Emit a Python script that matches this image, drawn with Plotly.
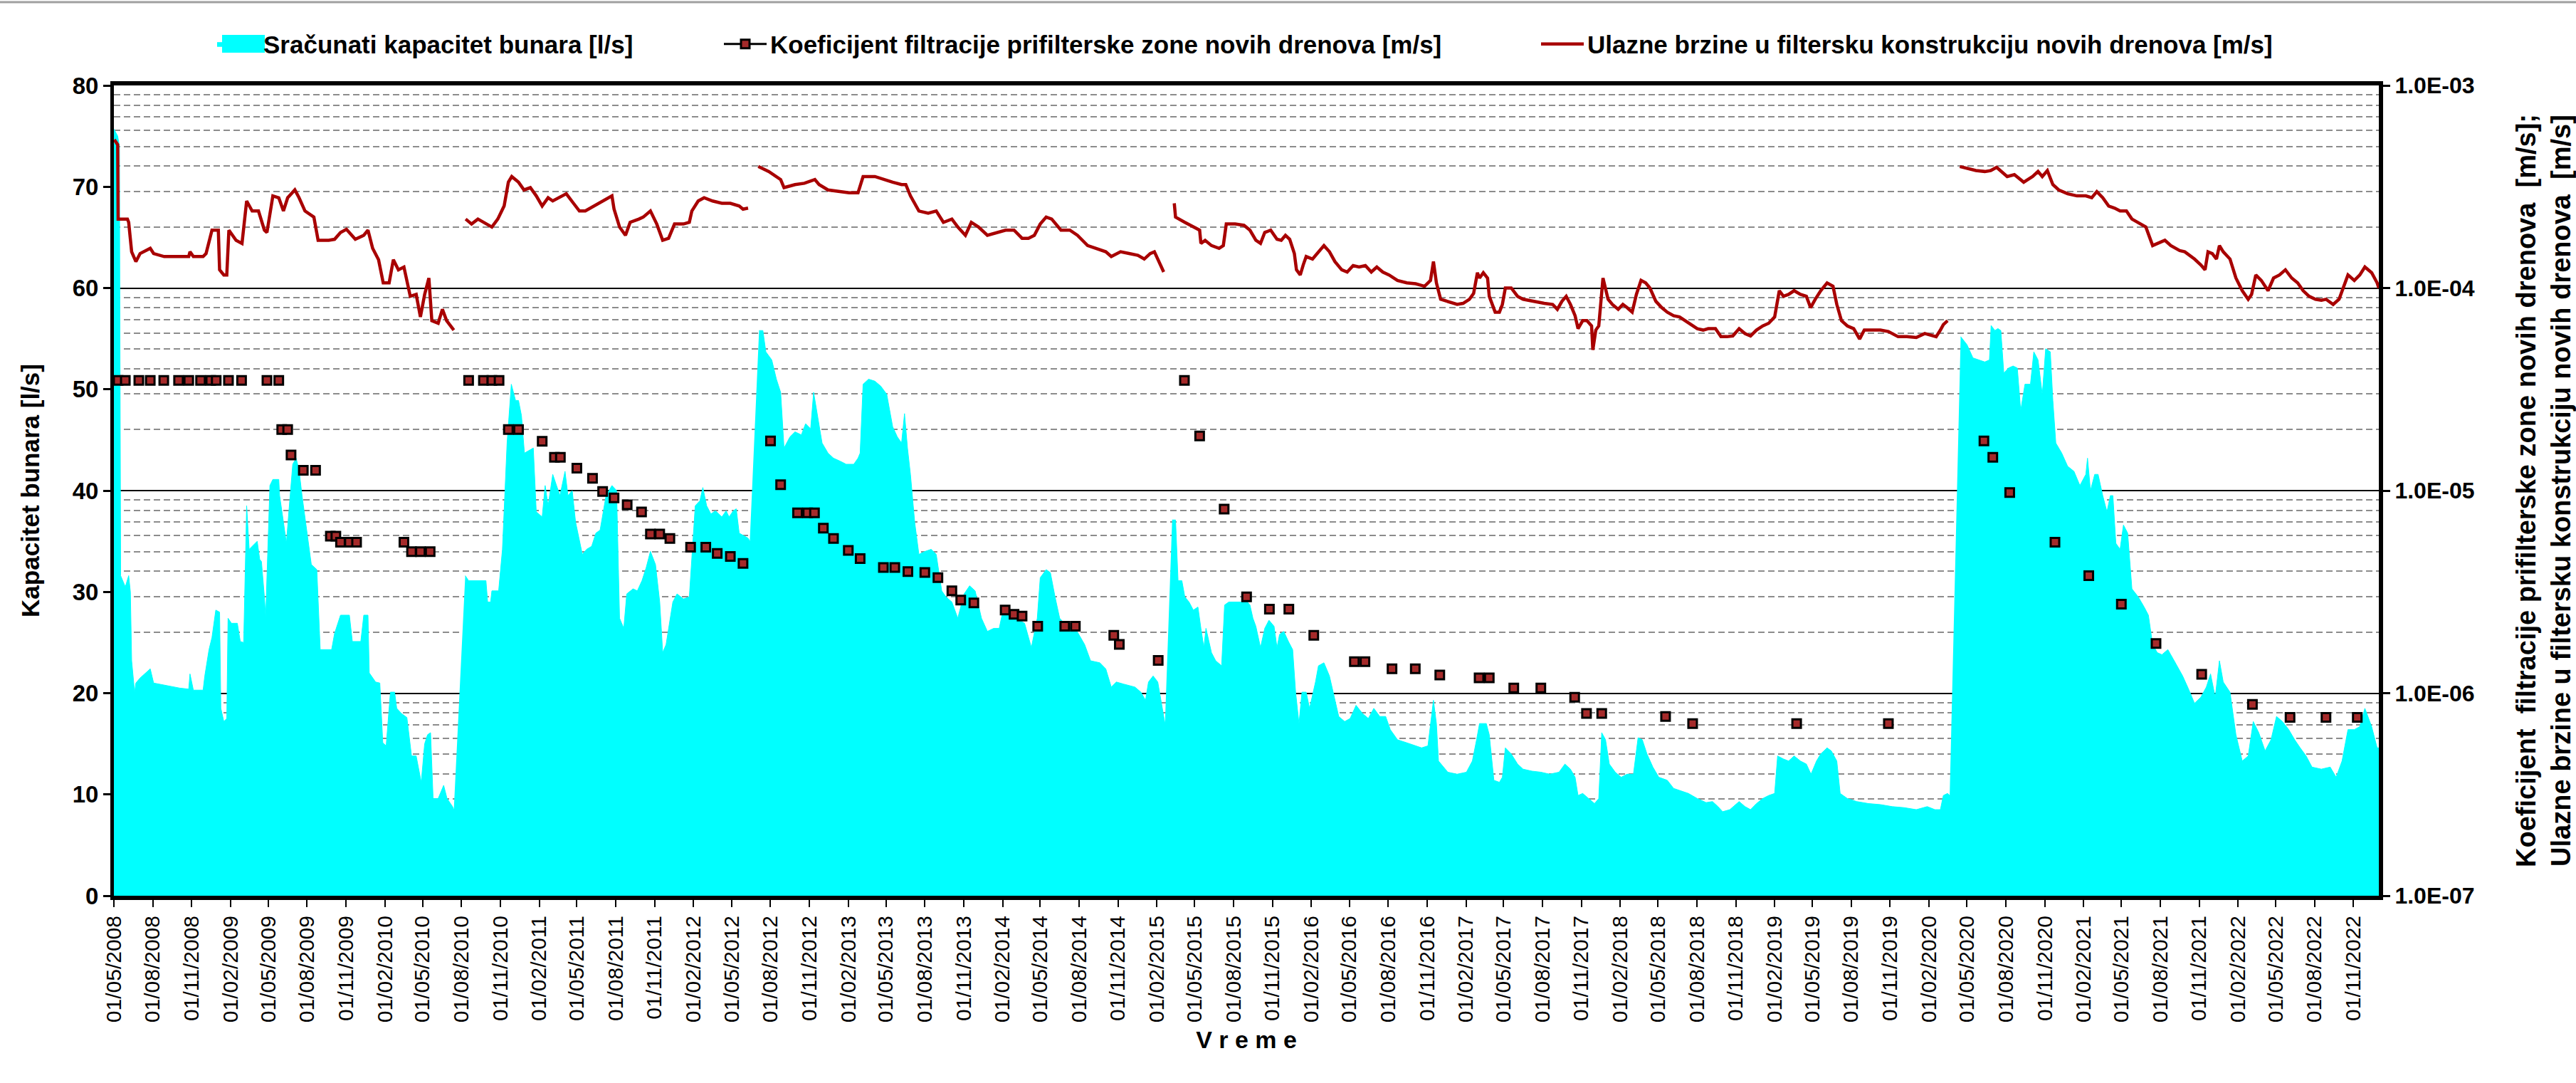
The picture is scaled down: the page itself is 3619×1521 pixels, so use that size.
import plotly.graph_objects as go

# ---------------------------------------------------------------------------
# Calculated well capacity [l/s] (None marks periods without data)
# ---------------------------------------------------------------------------
capacity_dates = [
    "2008-05-01", "2008-05-10", "2008-05-14", "2008-05-17", "2008-05-28", "2008-06-05", "2008-06-09",
    "2008-06-12", "2008-06-19", "2008-06-22", "2008-07-02", "2008-07-26", "2008-08-03", "2008-08-28",
    "2008-10-04", "2008-10-25", "2008-10-28", "2008-11-05", "2008-11-28", "2008-12-02", "2008-12-12",
    "2008-12-19", "2008-12-26", "2008-12-28", "2009-01-06", "2009-01-09", "2009-01-16", "2009-01-23",
    "2009-01-26", "2009-02-03", "2009-02-17", "2009-02-24", "2009-03-04", "2009-03-11", "2009-03-17",
    "2009-03-24", "2009-04-05", "2009-04-11", "2009-04-15", "2009-04-22", "2009-04-25", "2009-05-05",
    "2009-05-12", "2009-05-26", "2009-05-28", "2009-06-06", "2009-06-13", "2009-06-19", "2009-06-28",
    "2009-07-06", "2009-07-13", "2009-07-20", "2009-08-04", "2009-08-11", "2009-08-24", "2009-09-01",
    "2009-09-28", "2009-10-05", "2009-10-19", "2009-11-09", "2009-11-16", "2009-12-06", "2009-12-13",
    "2009-12-23", "2009-12-26", "2010-01-10", "2010-01-20", "2010-01-27", "2010-02-04", "2010-02-14",
    "2010-02-24", "2010-03-01", "2010-03-12", "2010-03-25", "2010-04-05", "2010-04-16", "2010-04-28",
    "2010-05-06", "2010-05-13", "2010-05-20", "2010-05-26", "2010-06-07", "2010-06-20", "2010-06-28",
    "2010-07-11", "2010-07-14", "2010-07-25",
    "2010-08-10", "2010-08-18", "2010-09-28", "2010-10-02", "2010-10-09", "2010-10-12", "2010-10-28",
    "2010-11-06", "2010-11-17", "2010-11-27", "2010-12-07", "2010-12-14", "2010-12-21", "2010-12-28",
    "2011-01-18", "2011-01-25", "2011-02-08", "2011-02-15", "2011-02-22", "2011-03-05", "2011-03-22",
    "2011-04-03", "2011-04-10", "2011-04-20", "2011-04-28", "2011-05-14", "2011-05-24", "2011-06-05",
    "2011-06-15", "2011-06-25", "2011-07-09", "2011-07-23", "2011-08-03", "2011-08-10", "2011-08-20",
    "2011-08-27", "2011-09-11", "2011-09-21", "2011-10-02", "2011-10-12", "2011-10-22", "2011-11-03",
    "2011-11-13", "2011-11-20", "2011-11-28", "2011-12-14", "2011-12-24", "2012-01-08", "2012-01-22",
    "2012-02-05", "2012-02-16", "2012-02-23", "2012-03-03", "2012-03-13", "2012-03-24", "2012-04-08",
    "2012-04-18", "2012-04-25", "2012-05-05", "2012-05-12", "2012-05-19", "2012-05-28", "2012-06-09",
    "2012-06-13", "2012-06-25",
    "2012-07-05", "2012-07-14", "2012-07-21", "2012-08-04", "2012-08-15", "2012-08-25", "2012-09-02",
    "2012-09-16", "2012-09-28", "2012-10-13", "2012-10-23", "2012-11-04", "2012-11-11", "2012-11-18",
    "2012-11-24", "2012-12-01", "2012-12-15", "2012-12-28", "2013-01-13", "2013-01-27", "2013-02-14",
    "2013-02-24", "2013-03-01", "2013-03-08", "2013-03-21", "2013-04-05", "2013-04-19", "2013-05-03",
    "2013-05-17", "2013-05-28", "2013-06-07", "2013-06-14", "2013-06-21", "2013-06-28", "2013-07-08",
    "2013-07-18", "2013-08-02", "2013-08-16", "2013-08-28", "2013-09-10", "2013-09-20", "2013-10-04",
    "2013-10-18", "2013-11-02", "2013-11-15", "2013-11-28", "2013-12-13", "2013-12-27", "2014-01-11",
    "2014-01-24", "2014-02-01", "2014-02-15", "2014-02-28", "2014-03-12", "2014-03-25", "2014-04-10",
    "2014-04-24", "2014-05-01", "2014-05-15", "2014-05-25", "2014-06-05", "2014-06-16", "2014-07-03",
    "2014-07-23", "2014-08-14", "2014-08-28", "2014-09-19", "2014-10-03", "2014-10-16", "2014-10-28",
    "2014-11-14", "2014-12-11", "2014-12-25", "2015-01-05", "2015-01-12", "2015-01-23", "2015-02-03",
    "2015-02-10", "2015-02-17", "2015-02-20", "2015-03-01",
    "2015-03-09", "2015-03-17", "2015-03-23", "2015-04-01", "2015-04-08", "2015-04-18", "2015-04-28",
    "2015-05-09", "2015-05-16", "2015-05-23", "2015-05-28", "2015-06-10", "2015-06-20", "2015-07-04",
    "2015-07-11", "2015-07-21", "2015-08-19", "2015-09-03", "2015-09-09", "2015-09-16", "2015-09-23",
    "2015-10-04", "2015-10-14", "2015-10-24", "2015-11-05", "2015-11-12", "2015-11-18", "2015-11-28",
    "2015-12-09", "2015-12-19", "2015-12-26", "2016-01-03", "2016-01-10", "2016-01-20", "2016-01-28",
    "2016-02-11", "2016-02-18", "2016-03-02", "2016-03-15", "2016-03-26", "2016-04-06", "2016-04-20",
    "2016-05-03", "2016-05-17", "2016-06-01", "2016-06-15", "2016-06-28", "2016-07-12", "2016-07-26",
    "2016-08-06", "2016-08-23", "2016-09-14", "2016-10-05", "2016-10-19", "2016-11-03", "2016-11-09",
    "2016-11-16", "2016-11-23", "2016-11-28", "2016-12-20", "2017-01-11", "2017-02-02", "2017-02-16",
    "2017-02-26", "2017-03-05", "2017-03-21", "2017-03-28", "2017-04-08", "2017-04-21", "2017-04-28",
    "2017-05-05", "2017-05-19", "2017-06-03", "2017-06-16", "2017-07-07", "2017-07-28", "2017-08-18",
    "2017-09-09", "2017-09-23", "2017-10-06", "2017-10-17", "2017-10-24", "2017-11-04", "2017-11-18",
    "2017-12-02", "2017-12-12", "2017-12-19", "2017-12-28", "2018-01-06", "2018-01-20", "2018-02-03",
    "2018-02-17", "2018-03-04", "2018-03-15", "2018-03-25", "2018-04-05", "2018-04-19", "2018-05-03",
    "2018-05-23", "2018-06-07", "2018-06-21", "2018-07-12", "2018-08-02", "2018-08-23", "2018-09-07",
    "2018-09-20", "2018-10-01", "2018-10-18", "2018-11-09", "2018-11-23", "2018-12-06", "2018-12-20",
    "2019-01-04", "2019-01-18", "2019-02-01", "2019-02-08", "2019-02-22", "2019-03-06", "2019-03-19",
    "2019-04-03", "2019-04-17", "2019-04-28", "2019-05-11", "2019-05-21", "2019-06-05", "2019-06-15",
    "2019-06-28", "2019-07-06", "2019-07-23", "2019-08-14", "2019-09-11", "2019-10-09", "2019-11-06",
    "2019-12-04", "2020-01-02", "2020-01-28", "2020-02-15", "2020-02-28", "2020-03-06", "2020-03-16",
    "2020-03-21", "2020-04-05",
    "2020-04-16", "2020-05-01", "2020-05-15", "2020-05-28", "2020-06-12", "2020-06-23", "2020-06-27",
    "2020-07-06", "2020-07-13", "2020-07-20", "2020-07-27", "2020-08-07", "2020-08-18", "2020-08-28",
    "2020-09-05", "2020-09-15", "2020-09-28", "2020-10-06", "2020-10-16", "2020-10-26", "2020-11-03",
    "2020-11-14", "2020-11-20", "2020-11-27", "2020-12-11", "2020-12-25", "2021-01-09", "2021-01-23",
    "2021-02-06", "2021-02-10", "2021-02-17", "2021-02-27", "2021-03-07", "2021-03-18", "2021-03-28",
    "2021-04-05", "2021-04-11", "2021-04-18", "2021-04-28", "2021-05-06", "2021-05-16", "2021-05-26",
    "2021-06-10", "2021-06-24", "2021-07-04", "2021-07-14", "2021-07-25", "2021-08-05", "2021-08-19",
    "2021-09-03", "2021-09-23", "2021-10-07", "2021-10-21", "2021-11-05", "2021-11-18", "2021-11-28",
    "2021-12-09", "2021-12-19", "2021-12-28", "2022-01-13", "2022-01-27", "2022-02-11", "2022-02-25",
    "2022-03-09", "2022-03-22", "2022-04-06", "2022-04-20", "2022-05-03", "2022-05-17", "2022-06-01",
    "2022-06-15", "2022-06-28", "2022-07-12", "2022-07-26", "2022-08-17", "2022-09-07", "2022-09-21",
    "2022-10-05", "2022-10-19", "2022-11-03", "2022-11-16", "2022-11-28", "2022-12-14", "2022-12-27",
    "2022-12-31",
]
capacity_lps = [
    75.7, 75.0, 74.0, 31.6, 30.5, 31.6, 30.0,
    23.2, 20.1, 21.0, 21.5, 22.4, 21.0, 20.8,
    20.5, 20.4, 21.9, 20.3, 20.3, 21.7, 24.3,
    25.5, 27.4, 28.2, 28.0, 18.5, 17.2, 17.5,
    27.4, 26.9, 26.9, 25.1, 25.0, 38.5, 34.2,
    34.5, 35.0, 33.2, 33.0, 29.5, 27.5, 40.5,
    41.1, 41.1, 39.5, 36.9, 34.8, 38.0, 42.6,
    43.2, 42.0, 39.5, 34.8, 32.7, 32.2, 24.3,
    24.3, 25.9, 27.7, 27.7, 25.1, 25.1, 27.7,
    27.7, 22.0, 21.1, 21.0, 15.1, 14.8, 20.1,
    20.1, 18.5, 18.0, 17.6, 13.8, 13.8, 11.2,
    15.0, 15.9, 16.1, 9.6, 9.6, 10.9, 9.6,
    8.8, 8.5, None,
    31.6, 31.1, 31.1, 29.0, 29.0, 30.1, 30.1,
    34.2, 44.7, 50.5, 48.9, 48.9, 47.4, 43.7,
    44.2, 37.9, 37.4, 40.5, 38.5, 41.6, 39.5,
    41.9, 39.5, 40.0, 36.9, 33.7, 34.2, 34.5,
    35.8, 36.1, 39.5, 40.5, 40.0, 27.4, 26.4,
    29.8, 30.3, 30.1, 31.1, 32.4, 34.0, 32.7,
    29.0, 24.0, 24.8, 29.0, 29.8, 29.3, 29.5,
    38.5, 39.0, 40.3, 38.5, 37.7, 38.0, 37.4,
    38.0, 37.4, 38.0, 38.2, 35.8, 35.6, 35.3,
    35.0, None,
    55.8, 55.8, 53.7, 52.9, 51.0, 49.7, 44.2,
    45.3, 45.8, 45.5, 46.6, 46.1, 49.7, 47.9,
    46.3, 44.7, 43.7, 43.2, 42.9, 42.6, 42.6,
    43.2, 43.7, 50.5, 51.0, 50.8, 50.3, 49.5,
    46.3, 45.3, 44.7, 47.6, 44.2, 41.6, 36.9,
    33.7, 34.0, 34.2, 33.7, 30.1, 29.5, 29.0,
    27.4, 29.8, 30.6, 30.1, 27.4, 26.1, 26.4,
    26.4, 28.0, 28.2, 27.7, 27.2, 26.9, 24.5,
    27.4, 31.4, 32.2, 31.9, 29.5, 27.4, 26.6,
    26.4, 24.8, 23.2, 23.0, 22.4, 20.6, 21.1,
    20.9, 20.6, 20.1, 19.3, 21.1, 21.7, 21.1,
    19.3, 17.5, 17.0, None,
    37.1, 37.1, 31.1, 31.1, 29.5, 29.0, 28.2,
    28.5, 26.4, 24.5, 26.4, 24.0, 23.2, 22.7,
    28.7, 29.0, 29.0, 29.0, 28.7, 27.4, 26.6,
    24.5, 26.4, 27.2, 26.6, 24.5, 25.8, 26.1,
    25.1, 24.3, 20.1, 17.0, 20.1, 20.1, 18.5,
    21.1, 22.7, 23.0, 21.7, 19.8, 17.7, 17.2,
    17.5, 18.8, 18.0, 17.5, 18.5, 17.7, 17.7,
    16.4, 15.4, 15.1, 14.8, 14.6, 14.8, 17.0,
    19.3, 17.0, 13.3, 12.2, 12.0, 12.2, 13.3,
    15.4, 17.0, 17.0, 15.9, 11.4, 11.2, 11.7,
    14.6, 14.0, 13.0, 12.5, 12.3, 12.2, 12.0,
    12.2, 13.0, 12.5, 11.7, 9.9, 10.1, 9.6,
    9.1, 9.6, 16.1, 15.4, 13.0, 12.2, 11.7,
    12.0, 12.0, 15.6, 15.4, 14.0, 12.7, 11.7,
    11.4, 10.6, 10.4, 10.1, 9.6, 9.2, 9.3,
    8.8, 8.3, 8.5, 9.3, 8.8, 8.5, 9.1,
    9.6, 9.9, 10.1, 13.8, 13.5, 13.3, 13.8,
    13.3, 13.0, 12.0, 13.3, 14.0, 14.6, 14.3,
    13.3, 10.1, 9.6, 9.3, 9.1, 9.0, 8.8,
    8.7, 8.5, 8.8, 8.5, 8.5, 9.9, 10.1,
    9.9, None,
    55.2, 54.4, 53.1, 52.9, 52.7, 52.9, 56.3,
    55.8, 56.0, 55.8, 51.6, 52.1, 52.3, 52.1,
    47.9, 50.5, 50.5, 53.7, 52.9, 49.5, 54.0,
    53.7, 48.9, 44.7, 43.7, 42.4, 41.9, 40.5,
    41.6, 43.2, 40.0, 41.6, 41.6, 39.5, 37.9,
    39.5, 39.5, 34.8, 34.2, 36.6, 35.8, 30.3,
    29.5, 28.5, 27.7, 24.8, 24.0, 23.8, 24.3,
    23.2, 21.7, 20.4, 19.0, 19.6, 20.6, 21.9,
    19.6, 23.2, 21.1, 20.1, 15.9, 13.3, 13.8,
    17.2, 16.1, 14.3, 15.4, 17.7, 17.2, 16.4,
    15.4, 14.6, 13.8, 12.7, 12.5, 12.7, 11.7,
    13.3, 16.4, 16.4, 16.7, 18.5, 16.7, 14.6,
    14.6,
]

# ---------------------------------------------------------------------------
# Entrance velocity into the filter construction of the new drains [m/s]
# ---------------------------------------------------------------------------
velocity_dates = [
    "2008-05-02", "2008-05-10", "2008-05-11", "2008-05-18", "2008-06-02", "2008-06-05", "2008-06-12",
    "2008-06-22", "2008-07-02", "2008-07-26", "2008-08-03", "2008-08-28", "2008-10-04", "2008-10-25",
    "2008-10-28", "2008-11-05", "2008-11-28", "2008-12-05", "2008-12-19", "2009-01-03", "2009-01-06",
    "2009-01-16", "2009-01-23", "2009-01-28", "2009-02-14", "2009-02-28", "2009-03-11", "2009-03-24",
    "2009-04-08", "2009-04-22", "2009-04-28", "2009-05-12", "2009-05-26", "2009-06-06", "2009-06-16",
    "2009-07-03", "2009-07-13", "2009-07-27", "2009-08-17", "2009-08-27", "2009-09-21", "2009-10-05",
    "2009-10-19", "2009-11-02", "2009-11-23", "2009-12-13", "2009-12-23", "2010-01-03", "2010-01-17",
    "2010-01-28", "2010-02-11", "2010-02-21", "2010-03-05", "2010-03-18", "2010-04-02", "2010-04-16",
    "2010-04-26", "2010-05-06", "2010-05-16", "2010-05-23", "2010-06-07", "2010-06-17", "2010-06-27",
    "2010-07-14", "2010-07-25",
    "2010-08-11", "2010-08-25", "2010-09-09", "2010-09-28", "2010-10-12", "2010-10-26", "2010-11-10",
    "2010-11-20", "2010-11-28", "2010-12-14", "2010-12-27", "2011-01-11", "2011-01-25", "2011-02-08",
    "2011-02-22", "2011-03-05", "2011-03-26", "2011-04-06", "2011-04-23", "2011-05-07", "2011-05-21",
    "2011-06-11", "2011-07-02", "2011-07-23", "2011-07-28", "2011-08-10", "2011-08-24", "2011-09-04",
    "2011-09-25", "2011-10-05", "2011-10-22", "2011-11-06", "2011-11-20", "2011-12-04", "2011-12-18",
    "2012-01-08", "2012-01-22", "2012-01-28", "2012-02-12", "2012-02-26", "2012-03-17", "2012-04-08",
    "2012-04-28", "2012-05-19", "2012-05-28", "2012-06-09", "2012-06-25",
    "2012-07-03", "2012-07-28", "2012-08-25", "2012-09-02", "2012-09-28", "2012-10-20", "2012-11-14",
    "2012-11-24", "2012-12-15", "2013-01-13", "2013-02-03", "2013-02-24", "2013-03-08", "2013-04-05",
    "2013-04-26", "2013-05-17", "2013-06-07", "2013-06-17", "2013-06-28", "2013-07-18", "2013-08-09",
    "2013-08-28", "2013-09-14", "2013-10-04", "2013-10-18", "2013-11-05", "2013-11-19", "2013-12-06",
    "2013-12-27", "2014-01-17", "2014-02-08", "2014-02-28", "2014-03-19", "2014-04-03", "2014-04-17",
    "2014-05-01", "2014-05-15", "2014-05-28", "2014-06-19", "2014-07-10", "2014-07-28", "2014-08-21",
    "2014-09-12", "2014-10-03", "2014-10-16", "2014-11-07", "2014-11-27", "2014-12-18", "2015-01-02",
    "2015-01-16", "2015-01-26", "2015-02-06", "2015-02-17", "2015-03-01",
    "2015-03-14", "2015-03-17", "2015-04-08", "2015-04-28", "2015-05-13", "2015-05-16", "2015-05-26",
    "2015-06-10", "2015-06-28", "2015-07-08", "2015-07-15", "2015-08-05", "2015-08-26", "2015-09-09",
    "2015-09-23", "2015-10-04", "2015-10-14", "2015-10-28", "2015-11-12", "2015-11-22", "2015-12-02",
    "2015-12-12", "2015-12-23", "2015-12-28", "2016-01-06", "2016-01-13", "2016-01-20", "2016-02-04",
    "2016-02-18", "2016-03-02", "2016-03-15", "2016-03-28", "2016-04-13", "2016-04-26", "2016-05-10",
    "2016-05-24", "2016-06-08", "2016-06-22", "2016-07-05", "2016-07-19", "2016-08-03", "2016-08-23",
    "2016-09-14", "2016-10-05", "2016-10-26", "2016-11-09", "2016-11-16", "2016-11-23", "2016-12-03",
    "2016-12-20", "2017-01-11", "2017-01-25", "2017-02-09", "2017-02-19", "2017-02-28", "2017-03-05",
    "2017-03-14", "2017-03-24", "2017-03-28", "2017-04-11", "2017-04-21", "2017-04-28", "2017-05-05",
    "2017-05-19", "2017-06-03", "2017-06-16", "2017-07-07", "2017-08-05", "2017-08-25", "2017-09-05",
    "2017-09-16", "2017-09-26", "2017-10-06", "2017-10-17", "2017-10-24", "2017-11-04", "2017-11-14",
    "2017-11-25", "2017-11-28", "2017-12-05", "2017-12-12", "2017-12-22", "2018-01-03", "2018-01-13",
    "2018-01-27", "2018-02-07", "2018-02-17", "2018-03-01", "2018-03-11", "2018-03-22", "2018-04-02",
    "2018-04-12", "2018-04-26", "2018-05-10", "2018-05-23", "2018-06-07", "2018-06-21", "2018-07-05",
    "2018-07-19", "2018-08-02", "2018-08-16", "2018-08-28", "2018-09-14", "2018-09-27", "2018-10-11",
    "2018-10-25", "2018-11-09", "2018-11-23", "2018-12-06", "2018-12-20", "2019-01-04", "2019-01-18",
    "2019-02-01", "2019-02-12", "2019-02-22", "2019-03-06", "2019-03-19", "2019-04-03", "2019-04-17",
    "2019-04-27", "2019-05-08", "2019-05-21", "2019-06-05", "2019-06-19", "2019-06-28", "2019-07-09",
    "2019-07-23", "2019-08-07", "2019-08-21", "2019-09-01", "2019-09-18", "2019-10-09", "2019-10-28",
    "2019-11-20", "2019-12-11", "2020-01-02", "2020-01-22", "2020-02-18", "2020-02-28", "2020-03-06",
    "2020-03-16", "2020-04-05",
    "2020-04-14", "2020-05-01", "2020-05-22", "2020-06-12", "2020-06-26", "2020-07-10", "2020-07-24",
    "2020-08-04", "2020-08-21", "2020-09-12", "2020-10-03", "2020-10-16", "2020-10-26", "2020-11-07",
    "2020-11-20", "2020-12-04", "2020-12-25", "2021-01-16", "2021-02-06", "2021-02-20", "2021-03-04",
    "2021-03-18", "2021-04-01", "2021-04-15", "2021-04-28", "2021-05-13", "2021-05-26", "2021-06-17",
    "2021-06-28", "2021-07-14", "2021-07-28", "2021-08-12", "2021-08-26", "2021-09-16", "2021-09-28",
    "2021-10-21", "2021-11-05", "2021-11-15", "2021-11-22", "2021-12-02", "2021-12-12", "2021-12-19",
    "2021-12-28", "2022-01-13", "2022-01-27", "2022-02-11", "2022-02-25", "2022-03-05", "2022-03-15",
    "2022-03-28", "2022-04-13", "2022-04-26", "2022-05-10", "2022-05-24", "2022-06-08", "2022-06-22",
    "2022-07-05", "2022-07-19", "2022-08-03", "2022-08-17", "2022-08-28", "2022-09-14", "2022-09-28",
    "2022-10-12", "2022-10-19", "2022-11-03", "2022-11-16", "2022-11-28", "2022-12-14", "2022-12-27",
    "2022-12-31",
]
velocity_ms = [
    5.4e-4, 5.1e-4, 2.19e-4, 2.19e-4, 2.19e-4, 2.11e-4, 1.51e-4,
    1.35e-4, 1.48e-4, 1.57e-4, 1.48e-4, 1.43e-4, 1.43e-4, 1.43e-4,
    1.51e-4, 1.43e-4, 1.43e-4, 1.48e-4, 1.93e-4, 1.93e-4, 1.23e-4,
    1.16e-4, 1.16e-4, 1.93e-4, 1.72e-4, 1.66e-4, 2.69e-4, 2.40e-4,
    2.40e-4, 1.93e-4, 1.88e-4, 2.85e-4, 2.79e-4, 2.40e-4, 2.79e-4,
    3.05e-4, 2.79e-4, 2.40e-4, 2.24e-4, 1.72e-4, 1.72e-4, 1.74e-4,
    1.88e-4, 1.95e-4, 1.74e-4, 1.82e-4, 1.93e-4, 1.57e-4, 1.38e-4,
    1.06e-4, 1.06e-4, 1.38e-4, 1.23e-4, 1.27e-4, 9.1e-5, 9.3e-5,
    7.2e-5, 9.3e-5, 1.12e-4, 6.9e-5, 6.7e-5, 7.85e-5, 6.9e-5,
    6.2e-5, None,
    2.19e-4, 2.07e-4, 2.19e-4, 2.07e-4, 2.0e-4, 2.19e-4, 2.54e-4,
    3.33e-4, 3.55e-4, 3.33e-4, 3.05e-4, 3.13e-4, 2.85e-4, 2.54e-4,
    2.79e-4, 2.69e-4, 2.85e-4, 2.92e-4, 2.62e-4, 2.40e-4, 2.40e-4,
    2.54e-4, 2.69e-4, 2.85e-4, 2.45e-4, 2.0e-4, 1.82e-4, 2.11e-4,
    2.19e-4, 2.24e-4, 2.40e-4, 2.07e-4, 1.72e-4, 1.76e-4, 2.07e-4,
    2.07e-4, 2.11e-4, 2.40e-4, 2.69e-4, 2.79e-4, 2.69e-4, 2.62e-4,
    2.62e-4, 2.54e-4, 2.45e-4, 2.48e-4, None,
    3.98e-4, 3.76e-4, 3.43e-4, 3.13e-4, 3.24e-4, 3.29e-4, 3.43e-4,
    3.24e-4, 3.05e-4, 2.99e-4, 2.95e-4, 2.95e-4, 3.55e-4, 3.55e-4,
    3.43e-4, 3.33e-4, 3.24e-4, 3.24e-4, 2.85e-4, 2.40e-4, 2.34e-4,
    2.40e-4, 2.11e-4, 2.19e-4, 2.0e-4, 1.82e-4, 2.11e-4, 2.0e-4,
    1.82e-4, 1.88e-4, 1.93e-4, 1.93e-4, 1.76e-4, 1.76e-4, 1.82e-4,
    2.07e-4, 2.24e-4, 2.19e-4, 1.93e-4, 1.93e-4, 1.82e-4, 1.62e-4,
    1.57e-4, 1.51e-4, 1.43e-4, 1.51e-4, 1.48e-4, 1.45e-4, 1.39e-4,
    1.48e-4, 1.51e-4, 1.35e-4, 1.20e-4, None,
    2.62e-4, 2.24e-4, 2.11e-4, 2.0e-4, 1.93e-4, 1.66e-4, 1.72e-4,
    1.62e-4, 1.57e-4, 1.62e-4, 2.07e-4, 2.07e-4, 2.04e-4, 1.93e-4,
    1.72e-4, 1.66e-4, 1.88e-4, 1.93e-4, 1.74e-4, 1.72e-4, 1.82e-4,
    1.74e-4, 1.48e-4, 1.23e-4, 1.16e-4, 1.30e-4, 1.43e-4, 1.39e-4,
    1.51e-4, 1.62e-4, 1.51e-4, 1.35e-4, 1.23e-4, 1.20e-4, 1.29e-4,
    1.27e-4, 1.29e-4, 1.20e-4, 1.27e-4, 1.20e-4, 1.16e-4, 1.09e-4,
    1.06e-4, 1.05e-4, 1.02e-4, 1.09e-4, 1.35e-4, 1.06e-4, 8.8e-5,
    8.6e-5, 8.3e-5, 8.4e-5, 8.8e-5, 9.4e-5, 1.19e-4, 1.12e-4,
    1.19e-4, 1.12e-4, 9.1e-5, 7.6e-5, 7.6e-5, 8.3e-5, 1.0e-4,
    1.0e-4, 9.1e-5, 8.8e-5, 8.6e-5, 8.4e-5, 8.3e-5, 7.85e-5,
    8.6e-5, 9.1e-5, 8.3e-5, 7.3e-5, 6.3e-5, 6.9e-5, 6.9e-5,
    6.5e-5, 4.95e-5, 6.2e-5, 6.5e-5, 1.12e-4, 8.8e-5, 8.3e-5,
    7.85e-5, 8.3e-5, 8.0e-5, 7.6e-5, 9.3e-5, 1.09e-4, 1.06e-4,
    1.0e-4, 8.6e-5, 8.0e-5, 7.6e-5, 7.3e-5, 7.2e-5, 6.9e-5,
    6.6e-5, 6.3e-5, 6.2e-5, 6.3e-5, 6.3e-5, 5.75e-5, 5.75e-5,
    5.8e-5, 6.3e-5, 5.96e-5, 5.8e-5, 6.2e-5, 6.5e-5, 6.7e-5,
    7.2e-5, 9.7e-5, 9.1e-5, 9.3e-5, 9.7e-5, 9.3e-5, 9.1e-5,
    8.0e-5, 8.8e-5, 9.7e-5, 1.06e-4, 1.02e-4, 8.3e-5, 6.9e-5,
    6.5e-5, 6.3e-5, 5.6e-5, 6.2e-5, 6.2e-5, 6.2e-5, 6.1e-5,
    5.75e-5, 5.75e-5, 5.7e-5, 5.96e-5, 5.75e-5, 6.2e-5, 6.6e-5,
    6.9e-5, None,
    3.98e-4, 3.89e-4, 3.80e-4, 3.76e-4, 3.80e-4, 3.94e-4, 3.72e-4,
    3.55e-4, 3.63e-4, 3.33e-4, 3.55e-4, 3.76e-4, 3.55e-4, 3.80e-4,
    3.24e-4, 3.05e-4, 2.92e-4, 2.85e-4, 2.85e-4, 2.79e-4, 2.99e-4,
    2.79e-4, 2.54e-4, 2.48e-4, 2.40e-4, 2.40e-4, 2.19e-4, 2.07e-4,
    2.0e-4, 1.62e-4, 1.66e-4, 1.72e-4, 1.62e-4, 1.53e-4, 1.51e-4,
    1.39e-4, 1.30e-4, 1.23e-4, 1.51e-4, 1.48e-4, 1.39e-4, 1.62e-4,
    1.51e-4, 1.39e-4, 1.12e-4, 9.7e-5, 8.8e-5, 9.3e-5, 1.16e-4,
    1.09e-4, 9.7e-5, 1.12e-4, 1.16e-4, 1.23e-4, 1.12e-4, 1.06e-4,
    9.7e-5, 9.1e-5, 8.8e-5, 8.7e-5, 8.8e-5, 8.3e-5, 8.8e-5,
    1.06e-4, 1.16e-4, 1.09e-4, 1.16e-4, 1.27e-4, 1.19e-4, 1.06e-4,
    1.0e-4,
]

# ---------------------------------------------------------------------------
# Filtration coefficient of the pre-filter zone of the new drains [m/s]
# ---------------------------------------------------------------------------
coef_dates = [
    "2008-05-11", "2008-05-28", "2008-06-29", "2008-07-26", "2008-08-27", "2008-10-01", "2008-10-25",
    "2008-11-22", "2008-12-16", "2008-12-29", "2009-01-27", "2009-02-27", "2009-04-28", "2009-05-26",
    "2009-06-02", "2009-06-16", "2009-06-24", "2009-07-23", "2009-08-21", "2009-09-25", "2009-10-08",
    "2009-10-19", "2009-11-09", "2009-11-26", "2010-03-18", "2010-04-05", "2010-04-26", "2010-05-19",
    "2010-08-18", "2010-09-22", "2010-10-12", "2010-10-29", "2010-11-20", "2010-12-14", "2011-02-08",
    "2011-03-09", "2011-03-23", "2011-05-01", "2011-06-07", "2011-07-01", "2011-07-28", "2011-08-28",
    "2011-10-01", "2011-10-22", "2011-11-13", "2011-12-07", "2012-01-25", "2012-03-01", "2012-03-28",
    "2012-04-28", "2012-05-28", "2012-08-01", "2012-08-25", "2012-10-04", "2012-10-28", "2012-11-13",
    "2012-12-04", "2012-12-28", "2013-02-01", "2013-03-01", "2013-04-25", "2013-05-22", "2013-06-22",
    "2013-08-01", "2013-09-01", "2013-10-04", "2013-10-25", "2013-11-25", "2014-02-07", "2014-02-28",
    "2014-03-19", "2014-04-25", "2014-06-28", "2014-07-23", "2014-10-22", "2014-11-04", "2015-02-04",
    "2015-04-07", "2015-05-13", "2015-07-10", "2015-09-01", "2015-10-25", "2015-12-10", "2016-02-07",
    "2016-05-13", "2016-06-07", "2016-08-10", "2016-10-04", "2016-12-01", "2017-03-04", "2017-03-28",
    "2017-05-25", "2017-07-28", "2017-10-16", "2017-11-13", "2017-12-19", "2018-05-19", "2018-07-22",
    "2019-03-25", "2019-10-28", "2020-06-10", "2020-07-01", "2020-08-10", "2020-11-25", "2021-02-13",
    "2021-05-01", "2021-07-22", "2021-11-07", "2022-03-07", "2022-06-04", "2022-08-28", "2022-11-10",
]
coef_ms = [
    3.5e-5, 3.5e-5, 3.5e-5, 3.5e-5, 3.5e-5, 3.5e-5, 3.5e-5,
    3.5e-5, 3.5e-5, 3.5e-5, 3.5e-5, 3.5e-5, 3.5e-5, 3.5e-5,
    2.0e-5, 2.0e-5, 1.5e-5, 1.26e-5, 1.26e-5, 5.96e-6, 5.96e-6,
    5.56e-6, 5.56e-6, 5.56e-6, 5.56e-6, 5.0e-6, 5.0e-6, 5.0e-6,
    3.5e-5, 3.5e-5, 3.5e-5, 3.5e-5, 2.0e-5, 2.0e-5, 1.75e-5,
    1.46e-5, 1.46e-5, 1.29e-5, 1.15e-5, 9.9e-6, 9.2e-6, 8.5e-6,
    7.85e-6, 6.1e-6, 6.1e-6, 5.8e-6, 5.25e-6, 5.25e-6, 4.9e-6,
    4.73e-6, 4.37e-6, 1.76e-5, 1.07e-5, 7.76e-6, 7.76e-6, 7.76e-6,
    6.53e-6, 5.8e-6, 5.07e-6, 4.62e-6, 4.17e-6, 4.17e-6, 3.98e-6,
    3.94e-6, 3.72e-6, 3.2e-6, 2.88e-6, 2.79e-6, 2.57e-6, 2.45e-6,
    2.4e-6, 2.14e-6, 2.14e-6, 2.14e-6, 1.93e-6, 1.74e-6, 1.45e-6,
    3.5e-5, 1.86e-5, 8.1e-6, 2.99e-6, 2.6e-6, 2.6e-6, 1.93e-6,
    1.43e-6, 1.43e-6, 1.32e-6, 1.32e-6, 1.23e-6, 1.19e-6, 1.19e-6,
    1.06e-6, 1.06e-6, 9.55e-7, 7.94e-7, 7.94e-7, 7.67e-7, 7.08e-7,
    7.08e-7, 7.08e-7, 1.76e-5, 1.46e-5, 9.77e-6, 5.56e-6, 3.8e-6,
    2.75e-6, 1.76e-6, 1.24e-6, 8.81e-7, 7.59e-7, 7.59e-7, 7.59e-7,
]

right_tick_vals = [1e-7, 1e-6, 1e-5, 1e-4, 1e-3]
right_tick_text = ["1.0E-07", "1.0E-06", "1.0E-05", "1.0E-04", "1.0E-03"]

FONT = "Liberation Sans, Arial, sans-serif"
CYAN = "#00FFFF"
DARK_RED = "#A80000"

# The coefficient series is sparse: isolated measurements, never joined by a line.
coef_x, coef_y = [], []
for d, v in zip(coef_dates, coef_ms):
    coef_x += [d, d]
    coef_y += [v, None]

fig = go.Figure()

fig.add_trace(go.Scatter(
    x=capacity_dates, y=capacity_lps,
    name="Sračunati kapacitet bunara [l/s]",
    mode="lines", line=dict(color=CYAN, width=1),
    fill="tozeroy", fillcolor=CYAN, connectgaps=False,
    yaxis="y", legend="legend",
))

fig.add_trace(go.Scatter(
    x=velocity_dates, y=velocity_ms,
    name="Ulazne brzine u filtersku konstrukciju novih drenova [m/s]",
    mode="lines", line=dict(color=DARK_RED, width=4.5),
    connectgaps=False, yaxis="y2", legend="legend3",
))

fig.add_trace(go.Scatter(
    x=coef_x, y=coef_y,
    name="Koeficijent filtracije prifilterske zone novih drenova [m/s]",
    mode="lines+markers", line=dict(color="black", width=3),
    marker=dict(symbol="square", size=12, color="#A52A2A", line=dict(color="black", width=3)),
    connectgaps=False, yaxis="y2", legend="legend2",
))

PLOT_L, PLOT_R, PLOT_T, PLOT_B = 160, 3342, 120, 1258
W, H = 3619, 1521
pw, ph = PLOT_R - PLOT_L, PLOT_B - PLOT_T


def px_x(px):
    return (px - PLOT_L) / pw


def px_y(py):
    return (PLOT_B - py) / ph


legend_style = dict(
    orientation="h", yanchor="middle", xanchor="left", y=px_y(62),
    font=dict(family=FONT, size=35, color="black", weight="bold"),
    itemwidth=60, bgcolor="rgba(0,0,0,0)", borderwidth=0,
)

fig.update_layout(
    width=W, height=H,
    margin=dict(l=PLOT_L, r=W - PLOT_R, t=PLOT_T, b=H - PLOT_B, autoexpand=False),
    paper_bgcolor="white", plot_bgcolor="white",
    font=dict(family=FONT, color="black"),
    showlegend=True,
    legend=dict(legend_style, x=px_x(300)),
    legend2=dict(legend_style, x=px_x(1012)),
    legend3=dict(legend_style, x=px_x(2160)),
    xaxis=dict(
        type="date", range=["2008-05-01", "2022-12-31"],
        tick0="2008-05-01", dtick="M3", tickformat="%d/%m/%Y", tickangle=-90,
        ticks="outside", ticklen=10, tickwidth=2, tickcolor="black",
        tickfont=dict(family=FONT, size=30, color="black"),
        showline=True, linewidth=6, linecolor="black", mirror=True,
        showgrid=False, zeroline=False,
        title=dict(text="V r e m e", font=dict(family=FONT, size=34, color="black", weight="bold"),
                   standoff=15),
    ),
    yaxis=dict(
        range=[0, 80], dtick=10,
        ticks="outside", ticklen=10, tickwidth=3, tickcolor="black",
        tickfont=dict(family=FONT, size=33, color="black", weight="bold"),
        showline=True, linewidth=5, linecolor="black",
        showgrid=False, zeroline=False,
        title=dict(text="Kapacitet bunara [l/s]",
                   font=dict(family=FONT, size=35, color="black", weight="bold"), standoff=37),
    ),
    yaxis2=dict(
        type="log", range=[-7, -3], overlaying="y", side="right",
        tickmode="array", tickvals=right_tick_vals, ticktext=right_tick_text,
        ticks="outside", ticklen=10, tickwidth=3, tickcolor="black",
        tickfont=dict(family=FONT, size=32, color="black", weight="bold"),
        showline=True, linewidth=6, linecolor="black",
        showgrid=True, gridcolor="black", gridwidth=1.5, zeroline=False,
        minor=dict(dtick="D1", showgrid=True, gridcolor="#8C8C8C", gridwidth=1.5,
                   griddash="9px,5px", ticks=""),
        title=dict(
            text="Koeficijent  filtracije prifilterske zone novih drenova  [m/s];<br>"
                 "Ulazne brzine u filtersku konstrukciju novih drenova  [m/s]",
            font=dict(family=FONT, size=38, color="black", weight="bold"), standoff=64),
    ),
    shapes=[
        # thin frame line along the top of the chart area
        dict(type="line", xref="paper", yref="paper",
             x0=px_x(0), x1=px_x(W), y0=px_y(3), y1=px_y(3),
             line=dict(color="#A0A0A0", width=3)),
        # filled key for the capacity area in the first legend
        dict(type="rect", xref="paper", yref="paper", layer="above",
             x0=px_x(312), x1=px_x(372), y0=px_y(74), y1=px_y(49),
             fillcolor=CYAN, line=dict(width=0)),
    ],
)

fig.write_html("out.html")
